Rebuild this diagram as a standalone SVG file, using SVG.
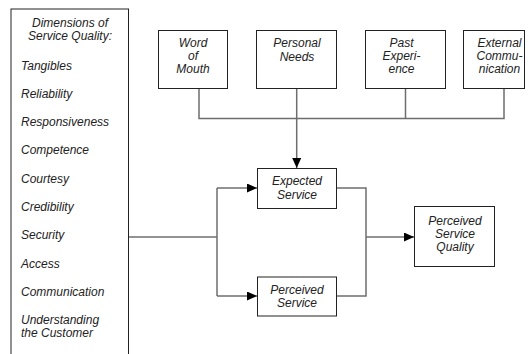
<svg xmlns="http://www.w3.org/2000/svg" width="531" height="354" viewBox="0 0 531 354">
<style>
.box{fill:#fff;stroke:#222;stroke-width:1}
.t{font-family:"Liberation Sans",Arial,sans-serif;font-size:12px;font-style:italic;fill:#222}
.c{text-anchor:middle}
.ln{fill:none;stroke:#6e6e6e;stroke-width:1.5}
</style>
<defs>
<marker id="ah" markerUnits="userSpaceOnUse" markerWidth="10" markerHeight="10" refX="10" refY="4.5" orient="auto">
<path d="M0,0 L10,4.5 L0,9 z" fill="#000"/>
</marker>
</defs>
<rect width="531" height="354" fill="#fff"/>
<g id="connectors">
<path class="ln" d="M128.5,237 H217"/>
<path class="ln" d="M217,188 V296"/>
<path class="ln" d="M217,188 H257" marker-end="url(#ah)"/>
<path class="ln" d="M217,296 H257" marker-end="url(#ah)"/>
<path class="ln" d="M337,188 H366 V296 H337"/>
<path class="ln" d="M366,237 H414" marker-end="url(#ah)"/>
<path class="ln" d="M199,88.5 V118.5 H504 V88.5"/>
<path class="ln" d="M405.5,118.5 V88.5"/>
<path class="ln" d="M296.7,88.5 V168" marker-end="url(#ah)"/>
</g>
<g id="dimensions">
<rect class="box" x="11" y="9" width="117.5" height="350"/>
<text class="t c" x="70" y="26.5">Dimensions of</text>
<text class="t c" x="70" y="40">Service Quality:</text>
<text class="t" x="21" y="69.5">Tangibles</text>
<text class="t" x="21" y="97.8">Reliability</text>
<text class="t" x="21" y="126">Responsiveness</text>
<text class="t" x="21" y="154.4">Competence</text>
<text class="t" x="21" y="182.7">Courtesy</text>
<text class="t" x="21" y="211">Credibility</text>
<text class="t" x="21" y="239.3">Security</text>
<text class="t" x="21" y="267.6">Access</text>
<text class="t" x="21" y="296">Communication</text>
<text class="t" x="21" y="323.5">Understanding</text>
<text class="t" x="21" y="337">the Customer</text>
</g>
<g id="word-of-mouth">
<rect class="box" x="158.5" y="30.5" width="69" height="58"/>
<text class="t c" x="193" y="47">Word</text>
<text class="t c" x="193" y="60">of</text>
<text class="t c" x="193" y="73">Mouth</text>
</g>
<g id="personal-needs">
<rect class="box" x="256.5" y="30.5" width="80" height="58"/>
<text class="t c" x="297" y="47">Personal</text>
<text class="t c" x="297" y="60.5">Needs</text>
</g>
<g id="past-experience">
<rect class="box" x="365.5" y="30.5" width="80" height="58"/>
<text class="t c" x="401.5" y="47">Past</text>
<text class="t c" x="401.5" y="60">Experi-</text>
<text class="t c" x="401.5" y="73">ence</text>
</g>
<g id="external-communication">
<rect class="box" x="463.5" y="30.5" width="61" height="58"/>
<text class="t c" x="499.5" y="47">External</text>
<text class="t c" x="499.5" y="60">Commu-</text>
<text class="t c" x="499.5" y="73">nication</text>
</g>
<g id="expected-service">
<rect class="box" x="257.5" y="168.5" width="79" height="40"/>
<text class="t c" x="297" y="185">Expected</text>
<text class="t c" x="297" y="198.5">Service</text>
</g>
<g id="perceived-service">
<rect class="box" x="257.5" y="277" width="79" height="39"/>
<text class="t c" x="297" y="293.5">Perceived</text>
<text class="t c" x="297" y="307">Service</text>
</g>
<g id="perceived-service-quality">
<rect class="box" x="414.5" y="206.5" width="80" height="60"/>
<text class="t c" x="455" y="225">Perceived</text>
<text class="t c" x="455" y="237.5">Service</text>
<text class="t c" x="455" y="251">Quality</text>
</g>
</svg>
